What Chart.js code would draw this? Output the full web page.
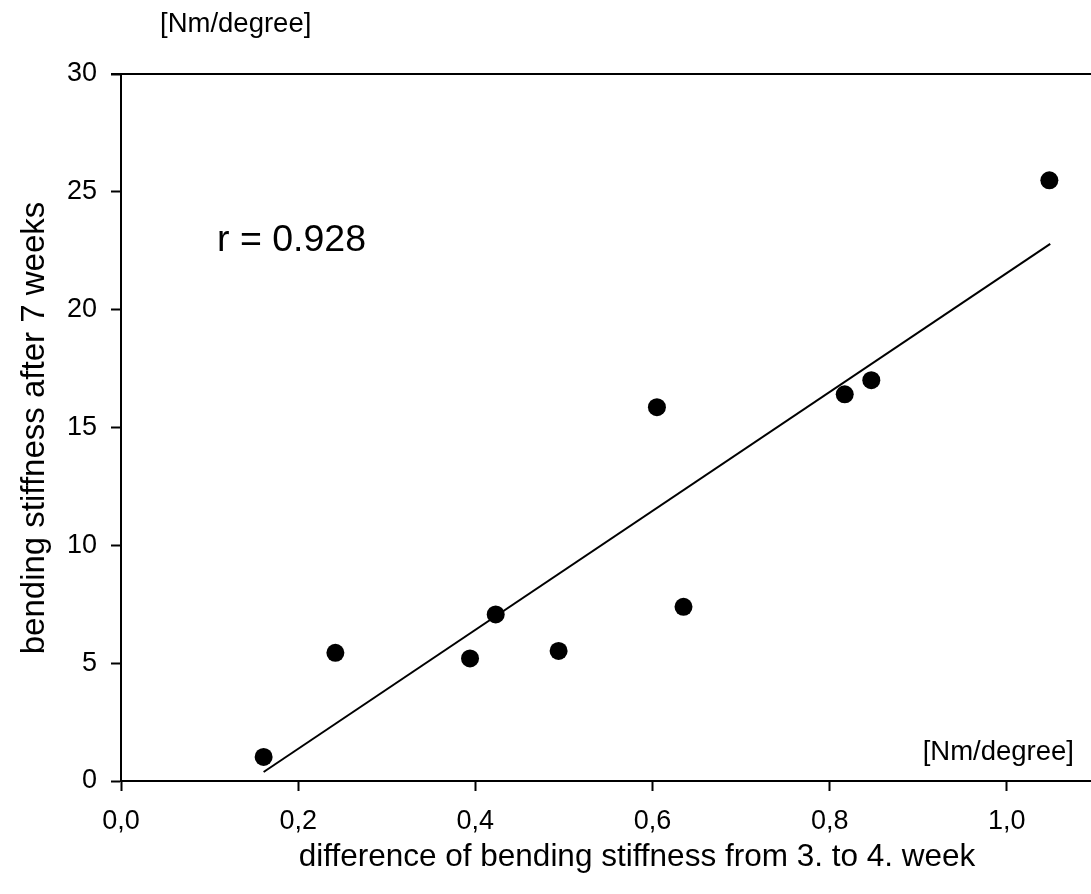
<!DOCTYPE html>
<html>
<head>
<meta charset="utf-8">
<script src="https://cdn.jsdelivr.net/npm/chart.js@4.4.1/dist/chart.umd.min.js"></script>
<style>
    html, body { margin: 0; padding: 0; background: #fff; }
    #chart_box { width: 1091px; height: 894px; }
</style>
</head>
<body>
<div id="chart_box"><canvas id="stiffness_chart" width="1091" height="894"></canvas></div>
<script>
// measured points: difference 3.->4. week vs stiffness after 7 weeks
const diff_values = [0.161, 0.242, 0.394, 0.423, 0.494, 0.605, 0.635, 0.817, 0.847, 1.048];
const stiff_values = [1.02, 5.44, 5.2, 7.07, 5.52, 15.86, 7.39, 16.41, 17.01, 25.49];

// regression line end points
const fit_x = [0.161, 1.049];
const fit_y = [0.38, 22.79];

const x_ticks = [0, 0.2, 0.4, 0.6, 0.8, 1.0];
const y_ticks = [0, 5, 10, 15, 20, 25, 30];

const font_family = "'Liberation Sans', Arial, sans-serif";

function toPoints(xs, ys){
    let pts = [];
    for(let i = 0; i < xs.length; i++){
        pts.push({x: xs[i], y: ys[i]});
    }
    return pts;
}

const textPlugin = {
    id: "textPlugin",
    afterDraw: function(chart){
        const ctx = chart.ctx;
        const area = chart.chartArea;
        ctx.save();

        // top spine
        ctx.strokeStyle = "#000";
        ctx.lineWidth = 2;
        ctx.beginPath();
        ctx.moveTo(area.left - 10, area.top);
        ctx.lineTo(area.right, area.top);
        ctx.stroke();

        ctx.fillStyle = "#000";
        ctx.textBaseline = "middle";

        // units
        ctx.font = "27.5px " + font_family;
        ctx.textAlign = "left";
        ctx.fillText("[Nm/degree]", 160, 24);
        ctx.textAlign = "right";
        ctx.fillText("[Nm/degree]", 1074, 752);

        // correlation
        ctx.font = "37.5px " + font_family;
        ctx.textAlign = "left";
        ctx.fillText("r = 0.928", 217, 241);

        // x title
        ctx.font = "31.5px " + font_family;
        ctx.textAlign = "center";
        ctx.fillText("difference of bending stiffness from 3. to 4. week", 637, 857);

        // y title
        ctx.font = "33px " + font_family;
        ctx.translate(35, 428);
        ctx.rotate(-Math.PI / 2);
        ctx.fillText("bending stiffness after 7 weeks", 0, 0);

        ctx.restore();
    }
};

new Chart(document.getElementById("stiffness_chart").getContext("2d"), {
    type: "scatter",
    data: {
        datasets: [
            {
                label: "stiffness",
                data: toPoints(diff_values, stiff_values),
                pointRadius: 9,
                pointHoverRadius: 9,
                pointBackgroundColor: "#000",
                pointBorderColor: "#000",
                pointBorderWidth: 0,
                showLine: false
            },
            {
                label: "fit",
                type: "line",
                data: toPoints(fit_x, fit_y),
                borderColor: "#000",
                borderWidth: 2,
                pointRadius: 0,
                fill: false,
                tension: 0
            }
        ]
    },
    options: {
        responsive: false,
        animation: false,
        events: [],
        layout: { autoPadding: false, padding: { top: 74, left: 0, right: 0, bottom: 0 } },
        plugins: {
            legend: { display: false },
            tooltip: { enabled: false }
        },
        scales: {
            x: {
                type: "linear",
                min: 0,
                max: 1.095,
                afterFit: function(scale){ scale.height = 113; },
                afterBuildTicks: function(scale){
                    scale.ticks = x_ticks.map(function(v){ return {value: v}; });
                },
                ticks: {
                    color: "#000",
                    padding: 14,
                    font: { size: 27, family: font_family },
                    callback: function(v){ return v.toFixed(1).replace(".", ","); }
                },
                grid: {
                    drawOnChartArea: false,
                    drawTicks: true,
                    tickLength: 10,
                    tickColor: "#000",
                    tickWidth: 2
                },
                border: { color: "#000", width: 2 }
            },
            y: {
                type: "linear",
                min: 0,
                max: 30,
                afterFit: function(scale){ scale.width = 121; },
                afterBuildTicks: function(scale){
                    scale.ticks = y_ticks.map(function(v){ return {value: v}; });
                },
                ticks: {
                    color: "#000",
                    padding: 14,
                    font: { size: 27, family: font_family }
                },
                grid: {
                    drawOnChartArea: false,
                    drawTicks: true,
                    tickLength: 10,
                    tickColor: "#000",
                    tickWidth: 2
                },
                border: { color: "#000", width: 2 }
            }
        }
    },
    plugins: [textPlugin]
});
</script>
</body>
</html>
